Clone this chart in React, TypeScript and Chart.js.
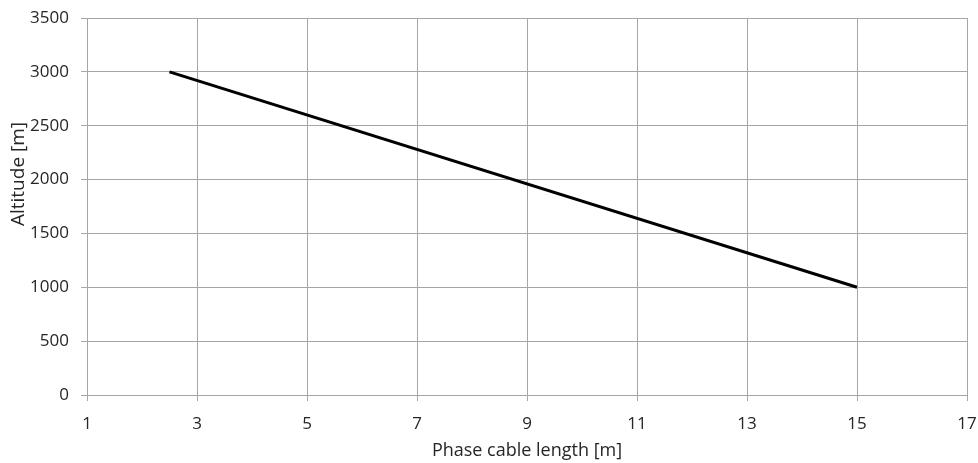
import React, { useEffect, useRef } from "react";
import { Chart, registerables } from "chart.js";

Chart.register(...registerables);

const xValues = [2.5, 15];
const altitudeValues = [3000, 1000];
const xTitle = "Phase cable length [m]";
const yTitle = "Altitude [m]";

const FONT = "'Open Sans', sans-serif";
const GRID = "#a6a6a6";
const TEXT = "#262626";

const axisTitlePlugin = {
  id: "axisTitlePlugin",
  afterDraw(chart: any) {
    const ctx = chart.ctx;
    const area = chart.chartArea;
    ctx.save();
    ctx.fillStyle = TEXT;
    ctx.textAlign = "center";
    ctx.textBaseline = "middle";
    ctx.font = `18px ${FONT}`;
    ctx.fillText(xTitle, (area.left + area.right) / 2, area.bottom + 56);
    ctx.translate(19, 174);
    ctx.rotate(-Math.PI / 2);
    ctx.font = `19px ${FONT}`;
    ctx.fillText(yTitle, 0, 0);
    ctx.restore();
  },
};

export default function App() {
  const ref = useRef<HTMLCanvasElement | null>(null);
  useEffect(() => {
    if (!ref.current) return;
    const chart = new Chart(ref.current, {
      type: "line",
      data: {
        datasets: [
          {
            data: xValues.map((x, i) => ({ x, y: altitudeValues[i] })),
            borderColor: "#000000",
            borderWidth: 3,
            pointRadius: 0,
            tension: 0,
            fill: false,
          },
        ],
      },
      options: {
        animation: false,
        responsive: false,
        devicePixelRatio: 1,
        layout: { padding: { top: 18, right: 11, left: 0, bottom: 0 } },
        plugins: { legend: { display: false }, tooltip: { enabled: false } },
        scales: {
          x: {
            type: "linear",
            min: 1,
            max: 17,
            ticks: {
              stepSize: 2,
              color: TEXT,
              font: { family: FONT, size: 17 },
              padding: 13,
              callback: (v: any) => String(v),
            },
            grid: { color: GRID, lineWidth: 1, tickLength: 6, tickColor: GRID },
            border: { color: GRID },
            afterFit(scale: any) {
              scale.height = 68;
              scale.paddingLeft = 0;
              scale.paddingRight = 0;
            },
          },
          y: {
            min: 0,
            max: 3500,
            ticks: {
              stepSize: 500,
              color: TEXT,
              font: { family: FONT, size: 17 },
              padding: 12,
              callback: (v: any) => String(v),
            },
            grid: { color: GRID, lineWidth: 1, tickLength: 6, tickColor: GRID },
            border: { color: GRID },
            afterFit(scale: any) {
              scale.width = 87;
              scale.paddingTop = 0;
              scale.paddingBottom = 0;
            },
          },
        },
      },
      plugins: [axisTitlePlugin],
    });
    return () => chart.destroy();
  }, []);
  return (
    <div style={{ position: "fixed", left: 0, top: 0, width: 978, height: 463, background: "#fff" }}>
      <canvas ref={ref} width={978} height={463} style={{ width: 978, height: 463 }} />
    </div>
  );
}
